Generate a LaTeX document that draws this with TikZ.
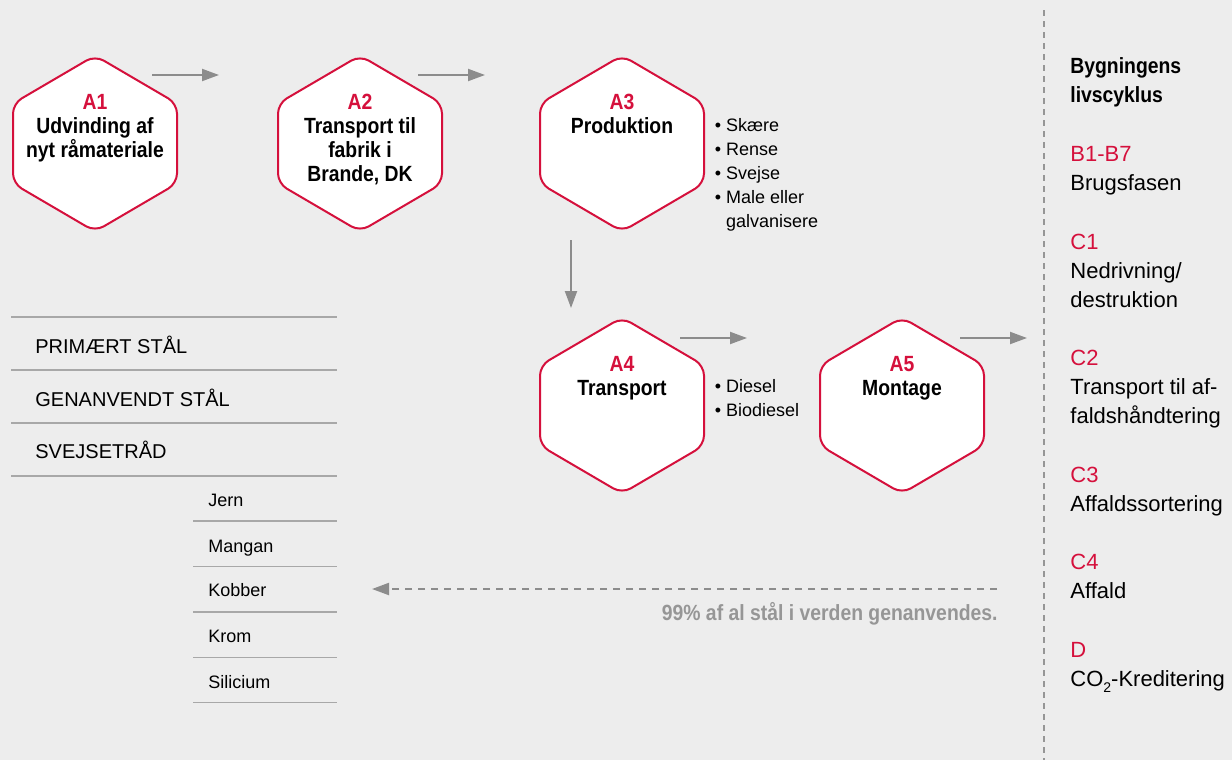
\documentclass[tikz,border=0pt]{standalone}
\usepackage{fontspec}
\setmainfont{Liberation Sans}[BoldFeatures={FakeStretch=0.88}]
\usetikzlibrary{arrows.meta}
\usetikzlibrary{calc}
\definecolor{brandRed}{RGB}{213,16,60}
\definecolor{arrowGray}{RGB}{140,140,140}
\definecolor{ruleGray}{RGB}{168,168,168}
\definecolor{paperGray}{RGB}{237,237,237}
\definecolor{noteGray}{RGB}{150,150,150}
\newcommand{\hexStep}[5]{%%
  %% The hexagon.
  \coordinate (#1) at (#2,#3);
  \draw[hexStyle] ($(#1)+(0,-88)$) -- ++(82,48) -- ++(0,80) -- ++(-82,48)
    -- ++(-82,-48) -- ++(0,-80) -- cycle;
  %% Its code and its title.
  \node[hexTextStyle] (#1Text) at ($(#1)+(0,-50)$) {\textcolor{brandRed}{#4}\\#5};
}
\newcommand{\materialRule}[2]{%%
  \draw[ruleStyle] (#1,#2) -- (337,#2);
}
\newcommand{\phaseGap}{\\[14.8pt]}
\newcommand{\lowTwo}{\raisebox{-0.55ex}{\fontsize{7}{7}\selectfont 2}}

\begin{document}
\begin{tikzpicture}[%%
  x=0.5pt,y=-0.5pt,%%
  hexStyle/.style={draw=brandRed,fill=white,line width=1pt,rounded corners=5pt},%%
  hexTextStyle/.style={anchor=north,inner sep=0pt,align=center,font=\fontsize{11}{12}\selectfont\bfseries},%%
  arrowStyle/.style={draw=arrowGray,line width=1pt,-{Triangle[length=8.5pt,width=6pt]}},%%
  recycleStyle/.style={arrowStyle,dash pattern=on 3.5pt off 3pt},%%
  dividerStyle/.style={draw=noteGray,line width=1pt,dash pattern=on 3pt off 2.5pt},%%
  bulletStyle/.style={anchor=north west,inner sep=0pt,align=left,font=\fontsize{9}{12}\selectfont},%%
  ruleStyle/.style={draw=ruleGray,line width=0.75pt},%%
  materialStyle/.style={anchor=base west,inner sep=0pt,font=\fontsize{10}{12}\selectfont},%%
  alloyStyle/.style={anchor=base west,inner sep=0pt,font=\fontsize{9}{11}\selectfont},%%
  phaseStyle/.style={anchor=north west,inner sep=0pt,align=left,font=\fontsize{11}{14.5}\selectfont},%%
  noteStyle/.style={anchor=base east,inner sep=0pt,text=noteGray,font=\fontsize{11}{13}\selectfont\bfseries}%%
]
%%
%%
\pgfmathsetmacro{\rowTop}{143.5}
\pgfmathsetmacro{\rowLow}{405.5}
%% The page.
\fill[paperGray] (0,0) rectangle (1232,760);
\useasboundingbox (0,0) rectangle (1232,760);
%% The arrows between the steps.
\coordinate (a1Out) at (152,75);
\coordinate (a2In) at (219,75);
\coordinate (a2Out) at (418,75);
\coordinate (a3In) at (485,75);
\coordinate (a3Out) at (571,240);
\coordinate (a4In) at (571,308);
\coordinate (a4Out) at (680,338);
\coordinate (a5In) at (747,338);
\coordinate (a5Out) at (960,338);
\coordinate (useIn) at (1027,338);
\coordinate (recycleStart) at (997,589);
\coordinate (recycleEnd) at (372,589);
%% The divider.
\coordinate (dividerTop) at (1044,10);
\coordinate (dividerBottom) at (1044,760);
%%
%%
%% The A steps.
\hexStep{a1}{95}{\rowTop}{A1}{Udvinding af\\nyt råmateriale}
\hexStep{a2}{360}{\rowTop}{A2}{Transport til\\fabrik i\\Brande, DK}
\hexStep{a3}{622}{\rowTop}{A3}{Produktion}
\hexStep{a4}{622}{\rowLow}{A4}{Transport}
\hexStep{a5}{902}{\rowLow}{A5}{Montage}
\draw[arrowStyle] (a1Out) -- (a2In);
\draw[arrowStyle] (a2Out) -- (a3In);
\draw[arrowStyle] (a3Out) -- (a4In);
\draw[arrowStyle] (a4Out) -- (a5In);
\draw[arrowStyle] (a5Out) -- (useIn);
%% The sub steps.
\node[bulletStyle] (a3Steps) at (714.5,117.8) {\textbullet\ Skære\\\textbullet\ Rense\\\textbullet\ Svejse\\\textbullet\ Male eller\\\phantom{\textbullet\ }galvanisere};
\node[bulletStyle] (a4Fuels) at (714.5,378.8) {\textbullet\ Diesel\\\textbullet\ Biodiesel};
%% The materials.
\materialRule{11}{317}
\materialRule{11}{370}
\materialRule{11}{423}
\materialRule{11}{476}
\node[materialStyle] (primary) at (35,353.3) {PRIMÆRT STÅL};
\node[materialStyle] (recycled) at (35,406.7) {GENANVENDT STÅL};
\node[materialStyle] (weldWire) at (35,458.3) {SVEJSETRÅD};
\materialRule{193}{521}
\materialRule{193}{566.3}
\materialRule{193}{612}
\materialRule{193}{657.3}
\materialRule{193}{702.7}
\node[alloyStyle] (iron) at (208,506.7) {Jern};
\node[alloyStyle] (manganese) at (208,552.3) {Mangan};
\node[alloyStyle] (copper) at (208,596.7) {Kobber};
\node[alloyStyle] (chromium) at (208,642.3) {Krom};
\node[alloyStyle] (silicon) at (208,688.3) {Silicium};
%% Recycling.
\draw[recycleStyle] (recycleStart) -- (recycleEnd);
\node[noteStyle] (recycleNote) at (998,620) {99\% af al stål i verden genanvendes.};
%% The life cycle of the building.
\draw[dividerStyle] (dividerTop) -- (dividerBottom);
\node[phaseStyle] (lifeCycle) at (1070,57.5) {\textbf{Bygningens}\\\textbf{livscyklus}\phaseGap
  \textcolor{brandRed}{B1-B7}\\Brugsfasen\phaseGap
  \textcolor{brandRed}{C1}\\Nedrivning/\\destruktion\phaseGap
  \textcolor{brandRed}{C2}\\Transport til af-\\faldshåndtering\phaseGap
  \textcolor{brandRed}{C3}\\Affaldssortering\phaseGap
  \textcolor{brandRed}{C4}\\Affald\phaseGap
  \textcolor{brandRed}{D}\\CO\lowTwo-Kreditering};
\end{tikzpicture}
\end{document}
